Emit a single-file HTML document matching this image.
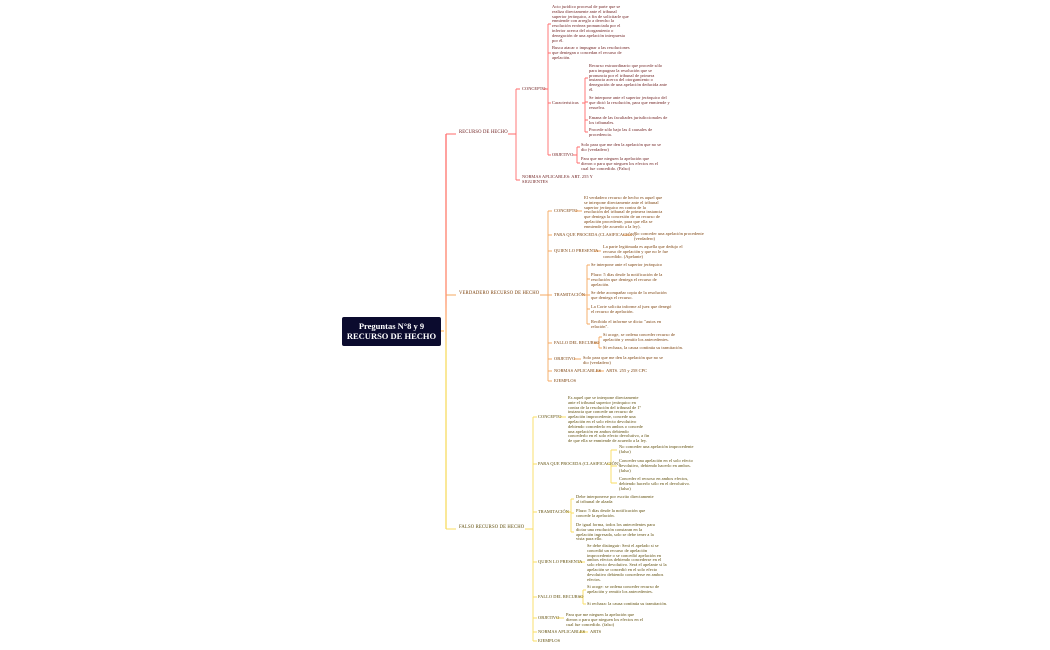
<!DOCTYPE html>
<html><head><meta charset="utf-8"><style>
body{margin:0;width:1050px;height:650px;background:#fff;position:relative;overflow:hidden;font-family:"Liberation Serif",serif}
.t{position:absolute;font-size:4.4px;line-height:4.8px;white-space:nowrap;letter-spacing:0.05px}
.r{color:#6a1818}.o{color:#7a3e08}.y{color:#5e4c08}
.h{font-size:4.7px;letter-spacing:.15px}
#c{position:absolute;left:342px;top:317px;width:99px;height:29px;background:#0b0b2e;border-radius:2px;color:#fff;font-size:8.5px;line-height:9.5px;text-align:center;padding-top:5px;box-sizing:border-box;font-weight:bold}
</style></head><body>
<svg width="1050" height="650" style="position:absolute;left:0;top:0" fill="none" stroke-width="0.9">
<defs><linearGradient id="g" gradientUnits="userSpaceOnUse" x1="0" y1="134" x2="0" y2="529"><stop offset="0" stop-color="#ff6b6b"/><stop offset="0.4" stop-color="#ff8a6b"/><stop offset="0.5" stop-color="#ffc070"/><stop offset="0.55" stop-color="#f8dc60"/><stop offset="1" stop-color="#f8dc60"/></linearGradient></defs>
<path d="M441 331 H444 M446 134 V529" stroke="url(#g)" stroke-width="1.3"/>
<g stroke="#ff6b6b">
<path d="M446 134 H456 M508 134 H516 M516 89 V180 M516 89 H520 M516 180 H520 M543 89 H548 M548 24 V155 M548 24 H551 M548 53 H551 M548 103 H551 M548 155 H551 M582 103 H585 M585 78 V132 M585 78 H588 M585 102 H588 M585 120 H588 M585 132 H588 M573 155 H577 M577 147 V163 M577 147 H580 M577 163 H580"/>
</g>
<g stroke="#f5a860">
<path d="M446 295 H456 M540 295 H548 M548 211 V381 M548 211 H552 M548 235 H552 M548 251 H552 M548 295 H552 M548 343 H552 M548 359 H552 M548 371 H552 M548 381 H552 M575 211 H582 M623 235 H632 M594 251 H601 M582 295 H587 M587 265 V324 M587 265 H590 M587 279 H590 M587 295 H590 M587 309 H590 M587 324 H590 M594 343 H599 M599 337 V348 M599 337 H602 M599 348 H602 M574 359 H581 M596 371 H604"/>
</g>
<g stroke="#f8dc60">
<path d="M446 529 H456 M525 529 H533 M533 417 V641 M533 417 H537 M533 464 H537 M533 512 H537 M533 562 H537 M533 597 H537 M533 618 H537 M533 632 H537 M533 641 H537 M559 417 H566 M607 464 H611 M611 450 V483 M611 450 H617 M611 466 H617 M611 483 H617 M566 512 H571 M571 499 V532 M571 499 H574 M571 513 H574 M571 532 H574 M578 562 H585 M579 597 H583 M583 590 V604 M583 590 H586 M583 604 H586 M556 618 H564 M579 632 H588"/>
</g>
</svg>
<div id="c">Preguntas N°8 y 9<br>RECURSO DE HECHO</div>

<div class="t r h" style="left:459px;top:131px">RECURSO DE HECHO</div>
<div class="t r" style="left:522px;top:87px">CONCEPTO</div>
<div class="t r" style="left:552px;top:5px"> Acto jurídico procesal de parte que se<br>realiza directamente ante el tribunal<br>superior jerárquico, a fin de solicitarle que<br>enmiende con arreglo a derecho la<br>resolución errónea pronunciada por el<br>inferior acerca del otorgamiento o<br>denegación de una apelación interpuesta<br>por él.</div>
<div class="t r" style="left:552px;top:46px">Busca atacar o impugnar a las resoluciones<br>que deniegan o concedan el recurso de<br>apelación.</div>
<div class="t r" style="left:552px;top:101px">Caracteristicas</div>
<div class="t r" style="left:589px;top:64px">Recurso extraordinario que procede sólo<br>para impugnar la resolución que se<br>pronuncia por el tribunal de primera<br>instancia acerca del otorgamiento o<br>denegación de una apelación deducida ante<br>él.</div>
<div class="t r" style="left:589px;top:96px">Se interpone ante el superior jerárquico del<br>que dictó la resolución, para que enmiende y<br>resuelva.</div>
<div class="t r" style="left:589px;top:116px">Emana de las facultades jurisdiccionales de<br>los tribunales.</div>
<div class="t r" style="left:589px;top:128px">Procede sólo bajo las 4 causales de<br>procedencia.</div>
<div class="t r" style="left:552px;top:153px">OBJETIVO</div>
<div class="t r" style="left:581px;top:143px">Solo para que me den la apelación que no se<br>dio (verdadero)</div>
<div class="t r" style="left:581px;top:157px">Para que me nieguen la apelación que<br>dieron o para que nieguen los efectos en el<br>cual fue concedido. (Falso)</div>
<div class="t r" style="left:522px;top:175px">NORMAS APLICABLES: ART. 255 Y<br>SIGUIENTES</div>

<div class="t o h" style="left:459px;top:292px">VERDADERO RECURSO DE HECHO</div>
<div class="t o" style="left:554px;top:209px">CONCEPTO</div>
<div class="t o" style="left:584px;top:196px">El verdadero recurso de hecho es aquel que<br>se interpone directamente ante el tribunal<br>superior jerárquico en contra de la<br>resolución del tribunal de primera instancia<br>que deniega la concesión de un recurso de<br>apelación procedente, para que ella se<br>enmiende (de acuerdo a la ley).</div>
<div class="t o" style="left:554px;top:233px">PARA QUE PROCEDA (CLASIFICACIÓN)</div>
<div class="t o" style="left:634px;top:232px">No conceder una apelación procedente<br>(verdadero)</div>
<div class="t o" style="left:554px;top:249px">QUIEN LO PRESENTA</div>
<div class="t o" style="left:603px;top:245px">La parte legitimada es aquella que dedujo el<br>recurso de apelación y que no le fue<br>concedido. (Apelante)</div>
<div class="t o" style="left:554px;top:293px">TRAMITACIÓN</div>
<div class="t o" style="left:591px;top:263px">Se interpone ante el superior jerárquico</div>
<div class="t o" style="left:591px;top:273px">Plazo: 5 días desde la notificación de la<br>resolución que deniega el recurso de<br>apelación.</div>
<div class="t o" style="left:591px;top:291px">Se debe acompañar copia de la resolución<br>que deniega el recurso.</div>
<div class="t o" style="left:591px;top:305px">La Corte solicita informe al juez que denegó<br>el recurso de apelación.</div>
<div class="t o" style="left:591px;top:320px">Recibido el informe se dicta: "autos en<br>relación".</div>
<div class="t o" style="left:554px;top:341px">FALLO DEL RECURSO</div>
<div class="t o" style="left:603px;top:333px">Si acoge, se ordena conceder recurso de<br>apelación y remitir los antecedentes.</div>
<div class="t o" style="left:603px;top:346px">Si rechaza, la causa continúa su tramitación.</div>
<div class="t o" style="left:554px;top:357px">OBJETIVO</div>
<div class="t o" style="left:583px;top:356px">Solo para que me den la apelación que no se<br>dio (verdadero)</div>
<div class="t o" style="left:554px;top:369px">NORMAS APLICABLES</div>
<div class="t o" style="left:606px;top:369px">ARTS. 255 y 258 CPC</div>
<div class="t o" style="left:554px;top:379px">EJEMPLOS</div>

<div class="t y h" style="left:459px;top:526px">FALSO RECURSO DE HECHO</div>
<div class="t y" style="left:538px;top:415px">CONCEPTO</div>
<div class="t y" style="left:568px;top:396px">Es aquel que se interpone directamente<br>ante el tribunal superior jerárquico en<br>contra de la resolución del tribunal de 1º<br>instancia que concede un recurso de<br>apelación improcedente, concede una<br>apelación en el solo efecto devolutivo<br>debiendo concederlo en ambos o concede<br>una apelación en ambos debiendo<br>concederlo en el solo efecto devolutivo, a fin<br>de que ella se enmiende de acuerdo a la ley.</div>
<div class="t y" style="left:538px;top:462px">PARA QUE PROCEDA (CLASIFICACIÓN)</div>
<div class="t y" style="left:619px;top:445px">No conceder una apelación improcedente<br>(falso)</div>
<div class="t y" style="left:619px;top:459px">Conceder una apelación en el solo efecto<br>devolutivo, debiendo hacerlo en ambos.<br>(falso)</div>
<div class="t y" style="left:619px;top:477px">Conceder el recurso en ambos efectos,<br>debiendo hacerlo sólo en el devolutivo.<br>(falso)</div>
<div class="t y" style="left:538px;top:510px">TRAMITACIÓN</div>
<div class="t y" style="left:576px;top:495px">Debe interponerse por escrito directamente<br>al tribunal de alzada</div>
<div class="t y" style="left:576px;top:509px">Plazo: 5 días desde la notificación que<br>concede la apelación.</div>
<div class="t y" style="left:576px;top:523px">De igual forma, todos los antecedentes para<br>dictar una resolución constaran en la<br>apelación ingresada, solo se debe tener a la<br>vista para ello.</div>
<div class="t y" style="left:538px;top:560px">QUIEN LO PRESENTA</div>
<div class="t y" style="left:587px;top:544px">Se debe distinguir: Será el apelado si se<br>concedió un recurso de apelación<br>improcedente o se concedió apelación en<br>ambos efectos debiendo concederse en el<br>solo efecto devolutivo. Será el apelante si la<br>apelación se concedió en el solo efecto<br>devolutivo debiendo concederse en ambos<br>efectos.</div>
<div class="t y" style="left:538px;top:595px">FALLO DEL RECURSO</div>
<div class="t y" style="left:587px;top:585px">Si acoge: se ordena conceder recurso de<br>apelación y remitir los antecedentes.</div>
<div class="t y" style="left:587px;top:602px">Si rechaza: la causa continúa su tramitación.</div>
<div class="t y" style="left:538px;top:616px">OBJETIVO</div>
<div class="t y" style="left:566px;top:613px">Para que me nieguen la apelación que<br>dieron o para que nieguen los efectos en el<br>cual fue concedido. (falso)</div>
<div class="t y" style="left:538px;top:630px">NORMAS APLICABLES</div>
<div class="t y" style="left:590px;top:630px">ARTS</div>
<div class="t y" style="left:538px;top:639px">EJEMPLOS</div>
</body></html>
